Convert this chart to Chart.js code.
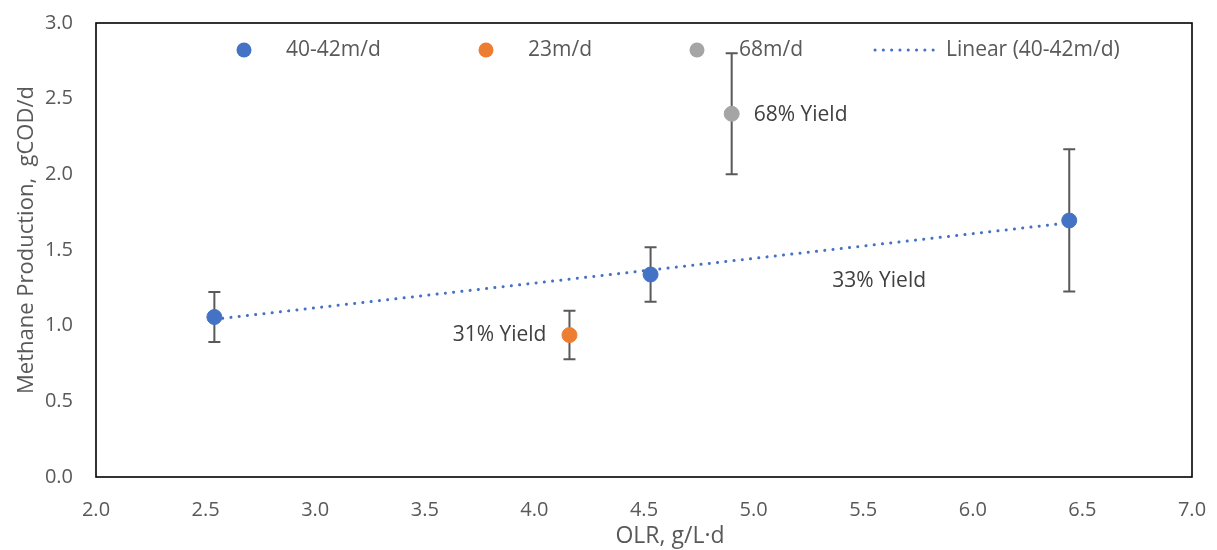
<!DOCTYPE html>
<html>
<head>
<meta charset="utf-8">
<script src="https://cdn.jsdelivr.net/npm/chart.js@4.4.1/dist/chart.umd.min.js"></script>
<style>
  html, body { margin: 0; padding: 0; background: #fff; }
  #wrap { width: 1217px; height: 550px; }
</style>
</head>
<body>
<div id="wrap"><canvas id="c" width="1217" height="550"></canvas></div>
<script>
// Series: OLR (g/L·d), methane production (gCOD/d) and error half-widths
const seriesNames = ['40-42m/d', '23m/d', '68m/d'];
const olr40 = [2.54, 4.53, 6.44];
const ch4_40 = [1.057, 1.338, 1.695];
const err40 = [0.165, 0.18, 0.47];
const olr23 = [4.16];
const ch4_23 = [0.938];
const err23 = [0.16];
const olr68 = [4.90];
const ch4_68 = [2.40];
const err68 = [0.40];

// Yield annotations per point
const yield40 = ['', '', '33% Yield'];
const yield23 = ['31% Yield'];
const yield68 = ['68% Yield'];

const xTicks = [2.0, 2.5, 3.0, 3.5, 4.0, 4.5, 5.0, 5.5, 6.0, 6.5, 7.0];
const yTicks = [0.0, 0.5, 1.0, 1.5, 2.0, 2.5, 3.0];
const xTitle = 'OLR, g/L·d';
const yTitle = 'Methane Production,  gCOD/d';

const colors = ['#4472C4', '#ED7D31', '#A5A5A5'];
const FONT = '"Open Sans", "Noto Sans", sans-serif';

// Least-squares trendline over the 40-42m/d series
function linearFit(xs, ys) {
  const n = xs.length;
  const mx = xs.reduce((a, b) => a + b, 0) / n;
  const my = ys.reduce((a, b) => a + b, 0) / n;
  let sxy = 0, sxx = 0;
  for (let i = 0; i < n; i++) { sxy += (xs[i] - mx) * (ys[i] - my); sxx += (xs[i] - mx) ** 2; }
  const m = sxy / sxx;
  return { m, b: my - m * mx };
}
const fit = linearFit(olr40, ch4_40);
const trendX = [Math.min(...olr40), Math.max(...olr40)];
const trend = trendX.map(x => ({ x, y: fit.m * x + fit.b }));

const toPts = (xs, ys) => xs.map((x, i) => ({ x, y: ys[i] }));

const datasets = [
  { label: 'Linear (40-42m/d)', data: trend, type: 'line', showLine: true, borderColor: colors[0],
    borderWidth: 3, borderDash: [0.1, 8.2], borderCapStyle: 'round', pointRadius: 0, fill: false, order: 5 },
  { label: seriesNames[0], data: toPts(olr40, ch4_40), backgroundColor: colors[0], borderColor: colors[0],
    pointRadius: 7.5, pointHoverRadius: 7.5, err: err40, notes: yield40, order: 1 },
  { label: seriesNames[1], data: toPts(olr23, ch4_23), backgroundColor: colors[1], borderColor: colors[1],
    pointRadius: 7.5, pointHoverRadius: 7.5, err: err23, notes: yield23, order: 2 },
  { label: seriesNames[2], data: toPts(olr68, ch4_68), backgroundColor: colors[2], borderColor: colors[2],
    pointRadius: 7.5, pointHoverRadius: 7.5, err: err68, notes: yield68, order: 3 }
];

// Vertical error bars with caps, drawn beneath the markers
const errorBars = {
  id: 'errorBars',
  beforeDatasetsDraw(chart) {
    const { ctx, scales: { x, y } } = chart;
    ctx.save();
    ctx.strokeStyle = '#595959';
    ctx.lineWidth = 2;
    chart.data.datasets.forEach(ds => {
      if (!ds.err) return;
      ds.data.forEach((p, i) => {
        const px = x.getPixelForValue(p.x);
        const top = y.getPixelForValue(p.y + ds.err[i]);
        const bot = y.getPixelForValue(p.y - ds.err[i]);
        ctx.beginPath();
        ctx.moveTo(px, top); ctx.lineTo(px, bot);
        ctx.moveTo(px - 6, top); ctx.lineTo(px + 6, top);
        ctx.moveTo(px - 6, bot); ctx.lineTo(px + 6, bot);
        ctx.stroke();
      });
    });
    ctx.restore();
  }
};

// Yield notes, plot frame, axis titles and the in-plot legend
const notesOffsets = { '40-42m/d': [-237, 61, 'left'], '23m/d': [-23, 0, 'right'], '68m/d': [22, 1, 'left'] };
const overlay = {
  id: 'overlay',
  afterDraw(chart) {
    const { ctx, chartArea: a, scales: { x, y } } = chart;
    ctx.save();
    // frame
    ctx.strokeStyle = '#000';
    ctx.lineWidth = 1.6;
    ctx.strokeRect(a.left, a.top, a.right - a.left, a.bottom - a.top);

    // axis titles
    ctx.fillStyle = '#595959';
    ctx.textAlign = 'center';
    ctx.textBaseline = 'middle';
    ctx.font = '23px ' + FONT;
    ctx.fillText(xTitle, 670, 536);
    ctx.save();
    ctx.translate(27, 240);
    ctx.rotate(-Math.PI / 2);
    ctx.font = '22px ' + FONT;
    ctx.fillText(yTitle, 0, 0);
    ctx.restore();

    // notes
    ctx.font = '21px ' + FONT;
    ctx.fillStyle = '#404040';
    chart.data.datasets.forEach(ds => {
      if (!ds.notes) return;
      const off = notesOffsets[ds.label];
      ds.data.forEach((p, i) => {
        if (!ds.notes[i]) return;
        ctx.textAlign = off[2];
        ctx.fillText(ds.notes[i], x.getPixelForValue(p.x) + off[0], y.getPixelForValue(p.y) + off[1]);
      });
    });

    // legend
    const ly = a.top + 27;
    ctx.font = '21px ' + FONT;
    ctx.textAlign = 'left';
    const marks = [[244, 1], [486, 2], [697, 3]];
    marks.forEach(([mx, di]) => {
      const ds = chart.data.datasets[di];
      ctx.beginPath();
      ctx.arc(mx, ly, 7.5, 0, Math.PI * 2);
      ctx.fillStyle = ds.backgroundColor;
      ctx.fill();
      ctx.fillStyle = '#595959';
      ctx.fillText(ds.label, mx + 42, ly);
    });
    const t = chart.data.datasets[0];
    ctx.strokeStyle = t.borderColor;
    ctx.lineWidth = 3;
    ctx.lineCap = 'round';
    ctx.setLineDash([0.1, 8.2]);
    ctx.beginPath();
    ctx.moveTo(875, ly); ctx.lineTo(940, ly);
    ctx.stroke();
    ctx.setLineDash([]);
    ctx.fillText(t.label, 946, ly);
    ctx.restore();
  }
};

new Chart(document.getElementById('c'), {
  type: 'scatter',
  data: { datasets },
  options: {
    responsive: false,
    animation: false,
    events: [],
    layout: { padding: { top: 23, right: 25, left: 0, bottom: 0 } },
    plugins: { legend: { display: false }, tooltip: { enabled: false } },
    scales: {
      x: {
        type: 'linear', min: 2, max: 7,
        afterBuildTicks: s => { s.ticks = xTicks.map(v => ({ value: v })); },
        afterFit: s => { s.height = 73; s.paddingLeft = 0; s.paddingRight = 0; },
        grid: { display: false, drawTicks: false },
        border: { display: false },
        ticks: { color: '#595959', font: { family: FONT, size: 20 }, padding: 21, maxRotation: 0,
                 callback: v => Number(v).toFixed(1) },
        title: { display: false }
      },
      y: {
        type: 'linear', min: 0, max: 3,
        afterBuildTicks: s => { s.ticks = yTicks.map(v => ({ value: v })); },
        afterFit: s => { s.width = 96; s.paddingTop = 0; s.paddingBottom = 0; },
        grid: { display: false, drawTicks: false },
        border: { display: false },
        ticks: { color: '#595959', font: { family: FONT, size: 20 }, padding: 23,
                 callback: v => Number(v).toFixed(1) },
        title: { display: false }
      }
    }
  },
  plugins: [errorBars, overlay]
});
</script>
</body>
</html>
